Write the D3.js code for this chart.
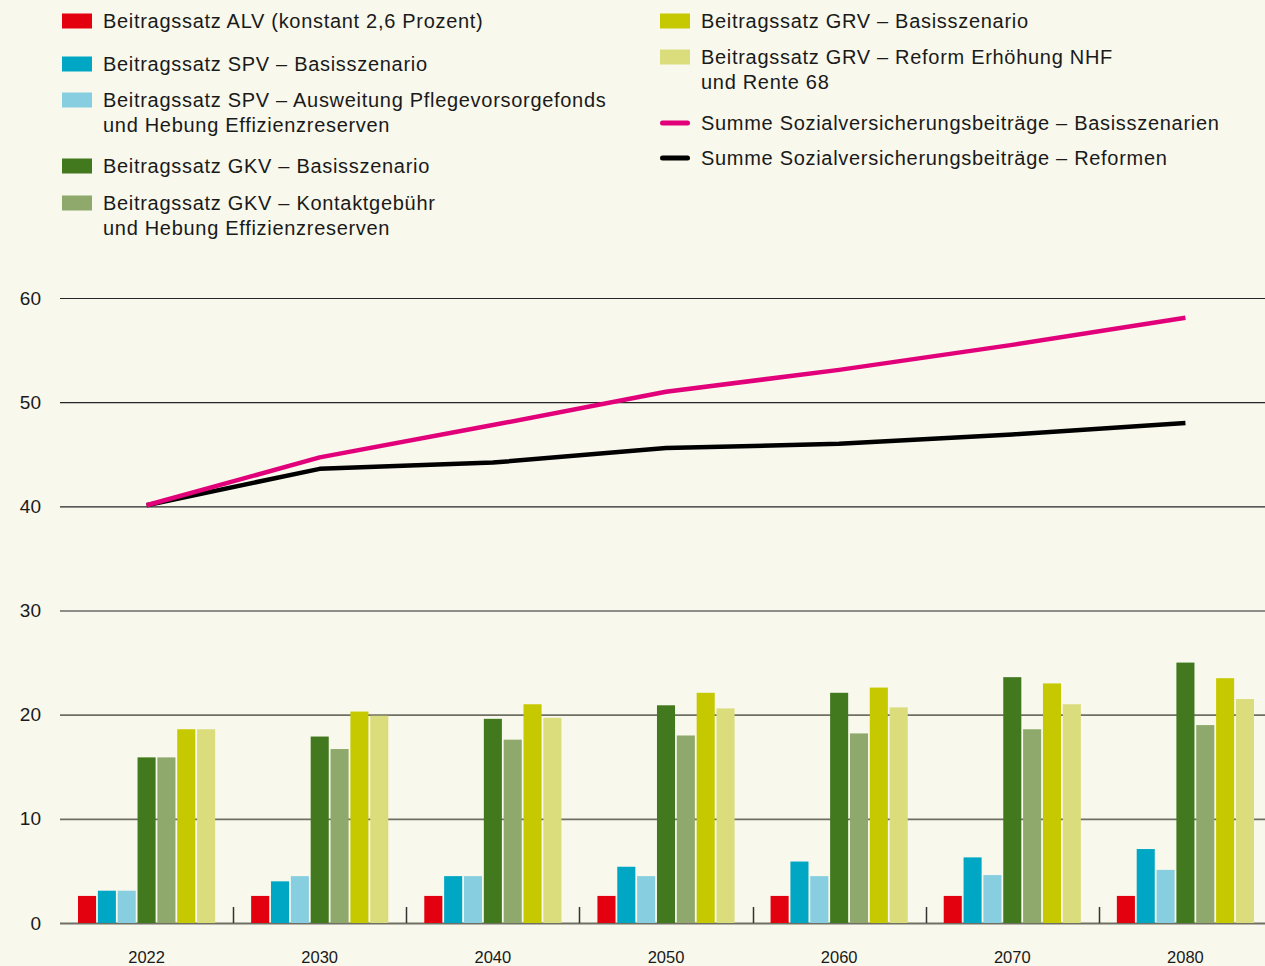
<!DOCTYPE html>
<html>
<head>
<meta charset="utf-8">
<script src="https://cdn.jsdelivr.net/npm/d3@7"></script>
<style>
  html, body { margin: 0; padding: 0; background: #f8f8ec; }
  svg { display: block; font-family: "Liberation Sans", Arial, sans-serif; }
</style>
</head>
<body>
<div id="chart"></div>
<script>
var width = 1265,
    height = 966;

// data
var years = ["2022", "2030", "2040", "2050", "2060", "2070", "2080"];
var barSeries = ["alv", "spv", "spvReform", "gkv", "gkvReform", "grv", "grvReform"];
var alv       = [2.6, 2.6, 2.6, 2.6, 2.6, 2.6, 2.6];
var spv       = [3.1, 4.0, 4.5, 5.4, 5.9, 6.3, 7.1];
var spvReform = [3.1, 4.5, 4.5, 4.5, 4.5, 4.6, 5.1];
var gkv       = [15.9, 17.9, 19.6, 20.9, 22.1, 23.6, 25.0];
var gkvReform = [15.9, 16.7, 17.6, 18.0, 18.2, 18.6, 19.0];
var grv       = [18.6, 20.3, 21.0, 22.1, 22.6, 23.0, 23.5];
var grvReform = [18.6, 19.9, 19.7, 20.6, 20.7, 21.0, 21.5];
var sumBasis  = [40.1, 44.7, 47.8, 51.0, 53.1, 55.5, 58.1];
var sumReform = [40.1, 43.6, 44.2, 45.6, 46.0, 46.9, 48.0];
var yTicks = [0, 10, 20, 30, 40, 50, 60];

var barValues = {
    alv: alv, spv: spv, spvReform: spvReform, gkv: gkv,
    gkvReform: gkvReform, grv: grv, grvReform: grvReform
};

var color = {
    alv: "#e3000f",
    spv: "#00a7c4",
    spvReform: "#87cee0",
    gkv: "#42791e",
    gkvReform: "#8ea96b",
    grv: "#c6c800",
    grvReform: "#dbdc7c",
    sumBasis: "#e2007a",
    sumReform: "#000000"
};

var svg = d3.select("#chart")
    .append("svg")
    .attr("width", width)
    .attr("height", height);

svg.append("rect")
    .attr("width", width)
    .attr("height", height)
    .attr("fill", "#f8f8ec");

// scales
var x0 = d3.scaleBand()
    .domain(years)
    .range([60, 1272])
    .padding(0);

var x1 = d3.scaleBand()
    .domain(barSeries)
    .range([18, x0.bandwidth() - 18])
    .paddingInner(0.09);

var y = d3.scaleLinear()
    .domain([0, 60])
    .range([923, 298]);

// grid
svg.append("g")
    .selectAll("line")
    .data(yTicks)
    .enter().append("line")
    .attr("x1", 60)
    .attr("x2", width)
    .attr("y1", function(d) { return y(d) + 0.5; })
    .attr("y2", function(d) { return y(d) + 0.5; })
    .attr("stroke", function(d) { return d <= 20 ? "#6f6f64" : "#262626"; })
    .attr("stroke-width", function(d) { return d <= 20 ? 1.8 : 1.1; });

// y labels
svg.append("g")
    .selectAll("text")
    .data(yTicks)
    .enter().append("text")
    .attr("x", 41)
    .attr("y", function(d) { return y(d); })
    .attr("dy", "0.35em")
    .attr("text-anchor", "end")
    .attr("font-size", 19)
    .attr("fill", "#1a1a1a")
    .text(function(d) { return d; });

// bars
var groups = svg.append("g")
    .selectAll("g")
    .data(years)
    .enter().append("g")
    .attr("transform", function(d) { return "translate(" + x0(d) + ",0)"; });

groups.selectAll("rect")
    .data(function(d, i) {
        return barSeries.map(function(s) { return { key: s, value: barValues[s][i] }; });
    })
    .enter().append("rect")
    .attr("x", function(d) { return x1(d.key); })
    .attr("width", x1.bandwidth())
    .attr("y", function(d) { return y(d.value); })
    .attr("height", function(d) { return y(0) - y(d.value); })
    .attr("fill", function(d) { return color[d.key]; });

// separator ticks on baseline
svg.append("g")
    .selectAll("line")
    .data(years.slice(1))
    .enter().append("line")
    .attr("x1", function(d) { return Math.round(x0(d)) + 0.5; })
    .attr("x2", function(d) { return Math.round(x0(d)) + 0.5; })
    .attr("y1", y(0))
    .attr("y2", y(0) - 16)
    .attr("stroke", "#333")
    .attr("stroke-width", 1.5);

// x labels
svg.append("g")
    .selectAll("text")
    .data(years)
    .enter().append("text")
    .attr("x", function(d) { return x0(d) + x0.bandwidth() / 2; })
    .attr("y", 957)
    .attr("dy", "0.35em")
    .attr("text-anchor", "middle")
    .attr("font-size", 16.5)
    .attr("fill", "#1a1a1a")
    .text(function(d) { return d; });

// lines
var line = d3.line()
    .x(function(d, i) { return x0(years[i]) + x0.bandwidth() / 2; })
    .y(function(d) { return y(d); });

svg.append("path")
    .datum(sumReform)
    .attr("d", line)
    .attr("fill", "none")
    .attr("stroke", color.sumReform)
    .attr("stroke-width", 4.5)
    .attr("stroke-linejoin", "round");

svg.append("path")
    .datum(sumBasis)
    .attr("d", line)
    .attr("fill", "none")
    .attr("stroke", color.sumBasis)
    .attr("stroke-width", 4.5)
    .attr("stroke-linejoin", "round");

// legend
var legendItems = [
    { key: "alv", type: "bar", x: 62, y: 21, lines: ["Beitragssatz ALV (konstant 2,6 Prozent)"] },
    { key: "spv", type: "bar", x: 62, y: 64, lines: ["Beitragssatz SPV – Basisszenario"] },
    { key: "spvReform", type: "bar", x: 62, y: 100, lines: ["Beitragssatz SPV – Ausweitung Pflegevorsorgefonds", "und Hebung Effizienzreserven"] },
    { key: "gkv", type: "bar", x: 62, y: 166, lines: ["Beitragssatz GKV – Basisszenario"] },
    { key: "gkvReform", type: "bar", x: 62, y: 203, lines: ["Beitragssatz GKV – Kontaktgebühr", "und Hebung Effizienzreserven"] },
    { key: "grv", type: "bar", x: 660, y: 21, lines: ["Beitragssatz GRV – Basisszenario"] },
    { key: "grvReform", type: "bar", x: 660, y: 57, lines: ["Beitragssatz GRV – Reform Erhöhung NHF", "und Rente 68"] },
    { key: "sumBasis", type: "line", x: 660, y: 123, lines: ["Summe Sozialversicherungsbeiträge – Basisszenarien"] },
    { key: "sumReform", type: "line", x: 660, y: 158, lines: ["Summe Sozialversicherungsbeiträge – Reformen"] }
];

var legend = svg.append("g")
    .selectAll("g")
    .data(legendItems)
    .enter().append("g")
    .attr("transform", function(d) { return "translate(" + d.x + "," + d.y + ")"; });

legend.filter(function(d) { return d.type === "bar"; })
    .append("rect")
    .attr("x", 0)
    .attr("y", -7.5)
    .attr("width", 30)
    .attr("height", 15)
    .attr("fill", function(d) { return color[d.key]; });

legend.filter(function(d) { return d.type === "line"; })
    .append("line")
    .attr("x1", 2.5)
    .attr("x2", 27.5)
    .attr("y1", 0)
    .attr("y2", 0)
    .attr("stroke", function(d) { return color[d.key]; })
    .attr("stroke-width", 5)
    .attr("stroke-linecap", "round");

legend.append("text")
    .attr("x", 41)
    .attr("font-size", 20)
    .attr("letter-spacing", 0.7)
    .attr("fill", "#1a1a1a")
    .selectAll("tspan")
    .data(function(d) { return d.lines; })
    .enter().append("tspan")
    .attr("x", 41)
    .attr("y", function(d, i) { return i * 24.5; })
    .attr("dy", "0.35em")
    .text(function(d) { return d; });
</script>
</body>
</html>
